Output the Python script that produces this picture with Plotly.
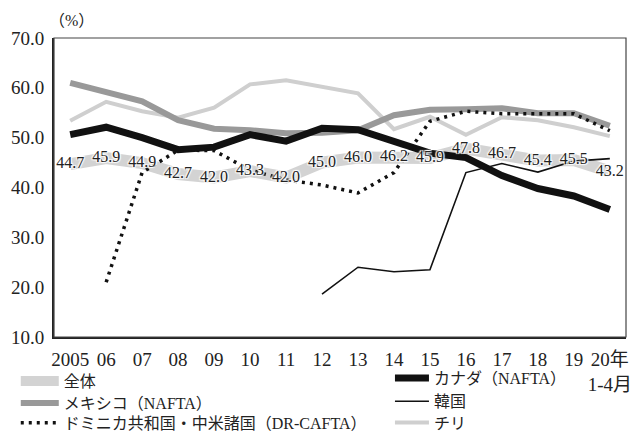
import plotly.graph_objects as go

# Year categories (2020 covers January-April only)
years = ["2005", "06", "07", "08", "09", "10", "11", "12", "13", "14",
         "15", "16", "17", "18", "19", "20年<br>1-4月"]

# Share of trade with FTA partners, %
total = [44.7, 45.9, 44.9, 42.7, 42.0, 43.3, 42.0, 45.0, 46.0, 46.2,
         45.9, 47.8, 46.7, 45.4, 45.5, 43.2]
mexico = [61.0, 59.3, 57.3, 53.5, 51.8, 51.5, 50.9, 51.0, 51.5, 54.5,
          55.6, 55.7, 55.9, 54.9, 54.9, 52.4]
canada = [50.6, 52.1, 50.0, 47.6, 48.1, 50.6, 49.3, 51.9, 51.6, 49.4,
          46.9, 46.0, 42.4, 39.8, 38.3, 35.6]
chile = [53.4, 57.2, 55.3, 54.0, 56.0, 60.7, 61.5, 60.3, 58.9, 51.7,
         54.2, 50.6, 54.1, 53.5, 52.1, 50.3]
dr_cafta = [None, 21.0, 43.0, 47.5, 47.4, 43.5, 41.5, 40.5, 38.9, 43.0,
            53.3, 55.3, 54.8, 54.8, 54.8, 51.4]
korea = [None, None, None, None, None, None, None, 18.6, 24.0, 23.1,
         23.5, 43.0, 44.8, 43.1, 45.3, 45.8]

FONT = "Liberation Serif, Noto Sans CJK JP, serif"
LEGEND_FONT = dict(family=FONT, size=16, color="#222222")

fig = go.Figure()

fig.add_trace(go.Scatter(
    x=years, y=total, mode="lines", name="全体",
    line=dict(color="#d3d3d3", width=12), legend="legend"))
fig.add_trace(go.Scatter(
    x=years, y=chile, mode="lines", name="チリ",
    line=dict(color="#cfcfcf", width=4), legend="legend6"))
fig.add_trace(go.Scatter(
    x=years, y=mexico, mode="lines", name="メキシコ（NAFTA）",
    line=dict(color="#999999", width=6), legend="legend2"))
fig.add_trace(go.Scatter(
    x=years, y=canada, mode="lines", name="カナダ（NAFTA）",
    line=dict(color="#111111", width=7), legend="legend4"))
fig.add_trace(go.Scatter(
    x=years, y=korea, mode="lines", name="韓国",
    line=dict(color="#111111", width=1.6), legend="legend5"))
fig.add_trace(go.Scatter(
    x=years, y=dr_cafta, mode="lines", name="ドミニカ共和国・中米諸国（DR-CAFTA）",
    line=dict(color="#111111", width=3.5, dash="3px,5px"), legend="legend3"))

# Value labels for the overall series, with a white halo
fig.add_trace(go.Scatter(
    x=years, y=total, mode="text", showlegend=False,
    text=[f"{v:.1f}" for v in total], textposition="middle center",
    textfont=dict(family=FONT, size=16, color="#222222",
                  shadow="1px 1px 1px #fff, -1px -1px 1px #fff, 1px -1px 1px #fff, -1px 1px 1px #fff"),
    hoverinfo="skip"))


def legend_box(x, y, width):
    # one legend entry placed in container coordinates
    return dict(x=x, y=y, xref="container", yref="container",
                xanchor="left", yanchor="middle", font=LEGEND_FONT,
                itemwidth=width, bgcolor="rgba(0,0,0,0)")


fig.update_layout(
    width=631, height=432,
    margin=dict(l=54, r=5, t=38, b=95, autoexpand=False),
    paper_bgcolor="white", plot_bgcolor="white",
    font=dict(family=FONT, size=19, color="#222222"),
    legend=legend_box(0.025, 0.118, 38),
    legend2=legend_box(0.025, 0.067, 38),
    legend3=legend_box(0.025, 0.021, 38),
    legend4=legend_box(0.618, 0.125, 34),
    legend5=legend_box(0.618, 0.071, 34),
    legend6=legend_box(0.618, 0.022, 34),
    annotations=[dict(text="（%）", x=-0.012, y=1.057, xref="paper", yref="paper",
                      xanchor="left", yanchor="middle", showarrow=False,
                      font=dict(family=FONT, size=16, color="#222222"))],
    shapes=[dict(type="rect", xref="paper", yref="paper", x0=0, x1=1, y0=0, y1=1,
                 line=dict(color="#444444", width=1.2), layer="above")],
)

fig.update_xaxes(type="category", range=[-0.45, 15.45], showgrid=False,
                 showline=True, linecolor="#222222", linewidth=2,
                 ticks="outside", ticklen=4, tickcolor="rgba(0,0,0,0)",
                 tickfont=dict(family=FONT, size=19), zeroline=False,
                 automargin=False)
fig.update_yaxes(range=[10, 70], dtick=10, tickformat=".1f", showgrid=False,
                 showline=True, linecolor="#222222", linewidth=2,
                 ticks="outside", ticklen=4, tickcolor="rgba(0,0,0,0)",
                 tickfont=dict(family=FONT, size=19), zeroline=False,
                 automargin=False)

fig.write_html("out.html")
